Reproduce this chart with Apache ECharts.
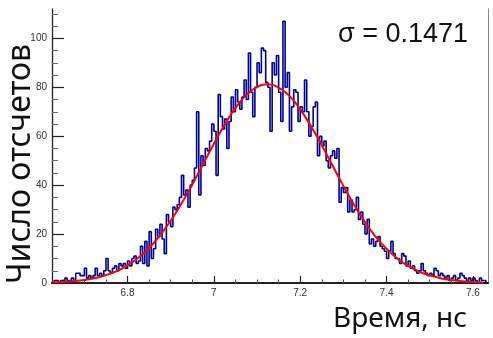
<!DOCTYPE html>
<html>
<head>
<meta charset="utf-8">
<script src="https://cdn.jsdelivr.net/npm/echarts@6/dist/echarts.min.js"></script>
<style>html,body{margin:0;padding:0;background:#fff}#c{width:493px;height:338px}</style>
</head>
<body>
<div id="c"></div>
<script>
// Histogram: bin edges start and width (ns), counts per bin
const binStart = 6.625;
const binWidth = 0.005;
const counts = [
  0,1,1,0,1,1,2,1,1,2,
  1,4,4,3,3,6,2,3,2,3,
  6,3,4,3,5,10,5,4,6,7,
  5,8,7,8,6,9,7,10,11,8,
  9,15,8,17,7,21,10,14,22,19,
  24,18,12,28,25,23,31,30,32,35,
  44,36,38,31,40,42,47,70,36,52,
  48,55,54,58,65,62,44,77,68,63,
  67,55,66,76,70,79,74,71,76,83,
  75,94,78,68,80,90,86,96,95,82,
  80,62,90,85,93,78,66,107,80,86,
  62,72,79,78,66,72,70,83,70,60,
  64,72,74,52,60,56,58,50,47,52,
  54,51,55,33,39,37,39,29,34,29,
  30,35,26,29,24,20,26,16,18,15,
  17,19,15,14,13,10,13,17,12,10,
  10,8,12,11,7,9,6,7,5,4,
  5,8,5,4,3,4,3,6,5,3,
  4,3,2,3,1,2,3,1,2,4,
  3,2,1,2,1,2,1,0,2,1,1,0
];
// Gaussian fit curve
const fitX = [6.625,6.65,6.675,6.70,6.725,6.75,6.775,6.80,6.825,6.85,6.875,6.90,6.925,6.95,6.975,7.00,7.025,7.05,7.075,7.10,7.125,7.15,7.175,7.20,7.225,7.25,7.275,7.30,7.325,7.35,7.375,7.40,7.425,7.45,7.475,7.50,7.525,7.55,7.575,7.60,7.625];
const fitY = [0.26,0.45,0.77,1.27,2.05,3.21,4.86,7.18,10.3,14.3,19.4,25.5,32.5,40.3,48.6,56.9,64.7,71.6,76.8,80.1,81.2,79.9,76.5,71.0,64.1,56.3,47.9,39.7,31.9,24.9,18.9,14.0,10.0,6.97,4.71,3.10,1.98,1.23,0.74,0.43,0.25];
// Axis ticks
const xMin = 6.625, xMax = 7.635;
const yMin = 0, yMax = 112;
const xMajorTicks = [6.8,7.0,7.2,7.4,7.6];
const xMinorTicks = [6.65,6.7,6.75,6.8,6.85,6.9,6.95,7.0,7.05,7.1,7.15,7.2,7.25,7.3,7.35,7.4,7.45,7.5,7.55,7.6];
const yMajorTicks = [0,20,40,60,80,100];
const yMinorTicks = [0,5,10,15,20,25,30,35,40,45,50,55,60,65,70,75,80,85,90,95,100,105,110];
const sigmaText = 'σ = 0.1471';
const xTitle = 'Время, нс';
const yTitle = 'Число отсчетов';

const histData = counts.map((v, i) => [binStart + i * binWidth, v]);
histData.push([binStart + counts.length * binWidth, counts[counts.length - 1]]);
const fitData = fitX.map((x, i) => [x, fitY[i]]);

const chart = echarts.init(document.getElementById('c'), null, {renderer: 'canvas'});
const labelFont = {fontFamily: 'Liberation Sans', fontSize: 10, color: '#333'};
chart.setOption({
  animation: false,
  grid: {left: 52, right: 5, top: 9, bottom: 55},
  xAxis: [
    {type: 'value', min: xMin, max: xMax, position: 'bottom',
     axisLine: {lineStyle: {color: '#222', width: 2}},
     axisTick: {inside: true, length: 3.5, customValues: xMinorTicks, lineStyle: {color: '#555', width: 1}},
     axisLabel: Object.assign({customValues: xMajorTicks, margin: 5,
       formatter: v => String(Math.round(v * 10) / 10)}, labelFont),
     splitLine: {show: false}},
    {type: 'value', min: xMin, max: xMax, position: 'bottom',
     axisLine: {show: false},
     axisTick: {inside: true, length: 7, customValues: xMajorTicks, lineStyle: {color: '#222', width: 1.2}},
     axisLabel: {show: false}, splitLine: {show: false}},
    {type: 'value', min: xMin, max: xMax, position: 'top',
     axisLine: {lineStyle: {color: '#222', width: 2}},
     axisTick: {show: false}, axisLabel: {show: false}, splitLine: {show: false}}
  ],
  yAxis: [
    {type: 'value', min: yMin, max: yMax, position: 'left',
     axisLine: {show: true, lineStyle: {color: '#222', width: 1.3}},
     axisTick: {show: true, inside: true, length: 6, customValues: yMinorTicks, lineStyle: {color: '#666', width: 1}},
     axisLabel: Object.assign({customValues: yMajorTicks, margin: 5}, labelFont),
     splitLine: {show: false}},
    {type: 'value', min: yMin, max: yMax, position: 'left',
     axisLine: {show: false},
     axisTick: {show: true, inside: true, length: 12, customValues: yMajorTicks, lineStyle: {color: '#222', width: 1.2}},
     axisLabel: {show: false}, splitLine: {show: false}},
    {type: 'value', min: yMin, max: yMax, position: 'right',
     axisLine: {show: true, lineStyle: {color: '#888', width: 1}},
     axisTick: {show: false}, axisLabel: {show: false}, splitLine: {show: false}}
  ],
  series: [
    {type: 'line', xAxisIndex: 0, yAxisIndex: 0, data: histData, step: 'end',
     showSymbol: false, symbol: 'none',
     lineStyle: {color: '#000090', width: 1.6}, z: 2},
    {type: 'line', xAxisIndex: 0, yAxisIndex: 0, data: fitData, smooth: true,
     showSymbol: false, symbol: 'none',
     lineStyle: {color: '#ff0000', width: 2}, z: 3}
  ],
  graphic: [
    {type: 'text', left: 338, top: 21, style: {text: sigmaText, fontFamily: 'Liberation Sans', fontSize: 27, fill: '#111'}},
    {type: 'text', left: 333, top: 305, style: {text: xTitle, fontFamily: 'Noto Sans', fontSize: 28, fill: '#111'}},
    {type: 'text', x: 5, y: 284, rotation: Math.PI / 2, originX: 0, originY: 0,
     style: {text: yTitle, fontFamily: 'Noto Sans', fontSize: 32, fill: '#111', textAlign: 'left', textVerticalAlign: 'top'}}
  ]
});
</script>
</body>
</html>
